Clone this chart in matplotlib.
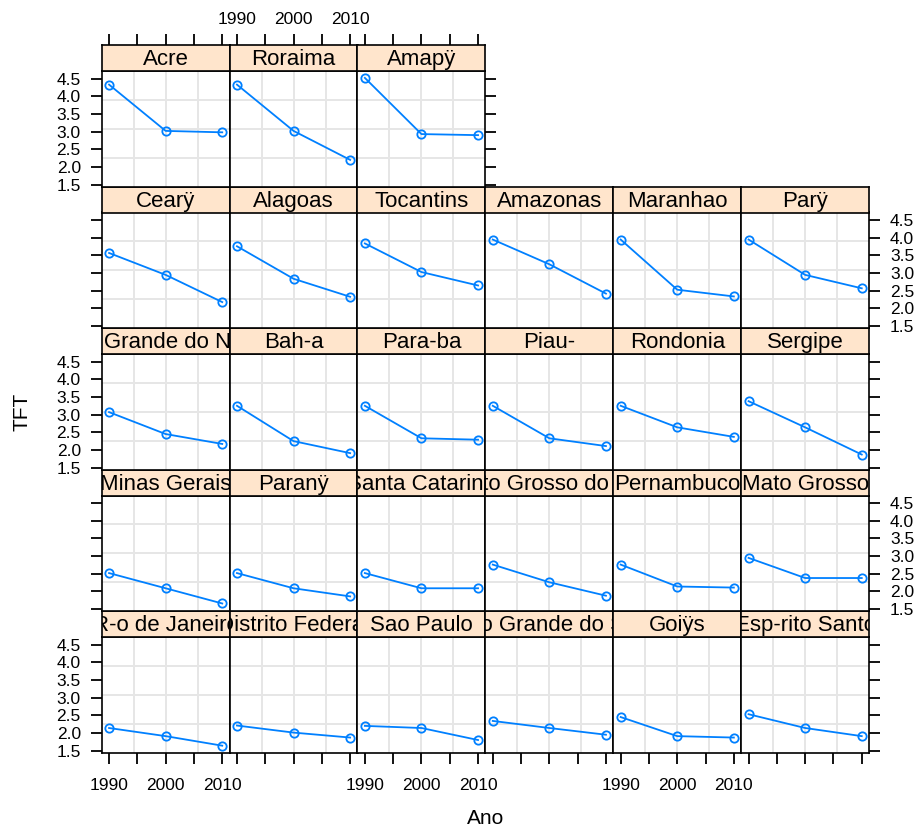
import matplotlib
matplotlib.use('Agg')
import matplotlib.pyplot as plt

plt.rcParams['font.family'] = ['Liberation Sans', 'DejaVu Sans']

years = [1990, 2000, 2010]
xticks = [1990, 1995, 2000, 2005, 2010]
xticklabels = ['1990', '', '2000', '', '2010']
yticks = [1.5, 2.0, 2.5, 3.0, 3.5, 4.0, 4.5]
yticklabels = ['1.5', '2.0', '2.5', '3.0', '3.5', '4.0', '4.5']

# lattice panel order: filled from bottom-left, row by row
states = ['R-o de Janeiro', 'Distrito Federal', 'Sao Paulo', 'R-o Grande do Sul', 'Goiÿs', 'Esp-rito Santo',
          'Minas Gerais', 'Paranÿ', 'Santa Catarina', 'Mato Grosso do Sul', 'Pernambuco', 'Mato Grosso',
          'R-o Grande do Norte', 'Bah-a', 'Para-ba', 'Piau-', 'Rondonia', 'Sergipe',
          'Cearÿ', 'Alagoas', 'Tocantins', 'Amazonas', 'Maranhao', 'Parÿ',
          'Acre', 'Roraima', 'Amapÿ']
tft_1990 = [2.14, 2.21, 2.20, 2.34, 2.45, 2.53,
            2.52, 2.52, 2.52, 2.76, 2.76, 2.95,
            3.07, 3.25, 3.25, 3.25, 3.25, 3.38,
            3.57, 3.76, 3.84, 3.95, 3.95, 3.95,
            4.33, 4.33, 4.52]
tft_2000 = [1.91, 2.01, 2.14, 2.14, 1.91, 2.14,
            2.09, 2.09, 2.09, 2.26, 2.14, 2.38,
            2.45, 2.25, 2.33, 2.33, 2.64, 2.64,
            2.95, 2.84, 3.03, 3.25, 2.53, 2.95,
            3.02, 3.02, 2.93]
tft_2010 = [1.64, 1.87, 1.80, 1.95, 1.87, 1.91,
            1.66, 1.86, 2.09, 1.88, 2.11, 2.38,
            2.17, 1.91, 2.29, 2.11, 2.37, 1.87,
            2.18, 2.33, 2.65, 2.42, 2.34, 2.57,
            2.98, 2.20, 2.90]

W, H = 920, 827
fig = plt.figure(figsize=(W / 100, H / 100), dpi=100)

ncol, nrow = 6, 5
left0 = 101.7
pw = 127.9
top0 = 45.0
rowh = 141.5
striph = 26.0
xlim = (1988.7, 2011.3)
ylim = (1.447, 4.715)
line_col = '#0080ff'
strip_col = '#ffe5cc'
grid_col = '#e6e6e6'
tick_fs = 12.5
strip_fs = 16

for i, name in enumerate(states):
    lr = i // ncol          # lattice row from bottom
    c = i % ncol
    r = nrow - 1 - lr       # row from top
    x0 = left0 + c * pw
    st = top0 + r * rowh
    sb = st + striph
    pb = st + rowh
    ax = fig.add_axes([x0 / W, 1 - pb / H, pw / W, (pb - sb) / H])
    sax = fig.add_axes([x0 / W, 1 - sb / H, pw / W, striph / H])

    # grid (equally spaced, lattice panel.grid style)
    for k in range(1, 4):
        ax.axvline(xlim[0] + k * (xlim[1] - xlim[0]) / 4, color=grid_col, lw=1.4, zorder=0)
        ax.axhline(ylim[0] + k * (ylim[1] - ylim[0]) / 4, color=grid_col, lw=1.4, zorder=0)

    vals = [tft_1990[i], tft_2000[i], tft_2010[i]]
    ax.plot(years, vals, color=line_col, lw=1.3, marker='o', ms=6,
            mfc='none', mec=line_col, mew=1.3, zorder=3, clip_on=False)
    ax.set_xlim(*xlim)
    ax.set_ylim(*ylim)
    ax.set_xticks(xticks)
    ax.set_xticklabels(xticklabels)
    ax.set_yticks(yticks)
    ax.set_yticklabels(yticklabels)
    for sp in ax.spines.values():
        sp.set_linewidth(1.2)
        sp.set_color('black')

    is_left = (c == 0)
    is_right = (c == ncol - 1) or (i == len(states) - 1)
    is_bottom = (r == nrow - 1)
    ax.tick_params(axis='y', which='both', direction='out', length=8, width=1.3,
                   labelsize=tick_fs, pad=7,
                   left=is_left, labelleft=is_left and (r % 2 == 0),
                   right=is_right, labelright=is_right and (r % 2 == 1))
    ax.tick_params(axis='x', which='both', direction='out', length=8, width=1.3,
                   labelsize=tick_fs, pad=10,
                   bottom=is_bottom, labelbottom=is_bottom and (c % 2 == 0),
                   top=False, labeltop=False)

    # strip
    sax.set_facecolor(strip_col)
    sax.set_xlim(*xlim)
    sax.set_ylim(0, 1)
    sax.set_yticks([])
    for sp in sax.spines.values():
        sp.set_linewidth(1.2)
        sp.set_color('black')
    is_top = (r == 0)
    sax.set_xticks(xticks)
    sax.set_xticklabels(xticklabels)
    sax.tick_params(axis='x', which='both', direction='out', length=8, width=1.3,
                    labelsize=tick_fs, pad=5,
                    top=is_top, labeltop=is_top and (c == 1),
                    bottom=False, labelbottom=False)
    t = sax.text(0.5, 0.44, name, transform=sax.transAxes, ha='center', va='center',
                 fontsize=strip_fs, color='black')
    t.set_clip_path(sax.patch)
    t.set_clip_on(True)

fig.text(22 / W, 1 - 412 / H, 'TFT', rotation=90, ha='center', va='center', fontsize=15)
fig.text(486 / W, 1 - 819 / H, 'Ano', ha='center', va='center', fontsize=15)

fig.savefig('out.png', dpi=100)
